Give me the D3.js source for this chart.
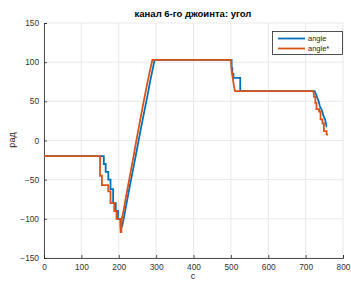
<!DOCTYPE html>
<html><head><meta charset="utf-8">
<script src="https://cdn.jsdelivr.net/npm/d3@7"></script>
<style>body{margin:0;background:#fff}svg{display:block}text{font-family:"Liberation Sans",Arial,sans-serif}</style>
</head><body>
<svg id="c" width="351" height="283"></svg>
<script>
const title = "канал 6-го джоинта: угол";
const xLabel = "с";
const yLabel = "рад";
const xTicks = [0,100,200,300,400,500,600,700,800];
const yTicks = [-150,-100,-50,0,50,100,150];
const seriesNames = ["angle","angle*"];

const angleT = [0,160,160,165,165,172,172,178,178,185,185,192,192,198,198,205,205,209,216,224,233,242,250,258,267,276,285,296,502,502,504,504,507,507,525,525,724,727,727,730,730,735,735,738,738,744,744,748,748,752,752,756,756,757];
const angleV = [-20,-20,-30,-30,-40,-40,-50,-50,-62,-62,-80,-80,-90,-90,-100,-100,-110,-110,-93,-72,-50,-28,-8,12,34,55,78,103,103,92,92,85,85,80,80,63,63,60,60,56,56,50,50,44,44,38,38,31,31,27,27,18,18,18];
const angleStarT = [0,150,150,155,155,172,172,178,178,188,188,194,194,204,205,207,208,212,220,228,237,246,255,264,273,282,290,500,502,502,505,505,508,508,511,720,722,722,726,726,729,729,736,736,740,740,745,745,749,749,756,756,760];
const angleStarV = [-20,-20,-45,-45,-57,-57,-65,-65,-80,-80,-90,-90,-100,-100,-117,-117,-100,-92,-70,-50,-27,-3,20,43,65,86,103,103,90,90,80,80,70,70,63,63,60,56,56,48,48,40,40,37,37,27,27,22,22,12,12,8,7];

const svg = d3.select("#c");
const x = d3.scaleLinear().domain([0,800]).range([44,343]);
const y = d3.scaleLinear().domain([-150,150]).range([258,23]);

// grid
const g = svg.append("g");
g.selectAll(".gx").data(xTicks).enter().append("line")
  .attr("x1",d=>x(d)).attr("x2",d=>x(d)).attr("y1",y(-150)).attr("y2",y(150))
  .attr("stroke","#e3e3e3").attr("stroke-width",0.8);
g.selectAll(".gy").data(yTicks).enter().append("line")
  .attr("y1",d=>y(d)).attr("y2",d=>y(d)).attr("x1",x(0)).attr("x2",x(800))
  .attr("stroke","#e3e3e3").attr("stroke-width",0.8);

// axes
const ax = svg.append("g").attr("transform",`translate(0,${y(-150)})`)
  .call(d3.axisBottom(x).tickValues(xTicks).tickSize(-3).tickPadding(6).tickFormat(d3.format("d")));
const ay = svg.append("g").attr("transform",`translate(${x(0)},0)`)
  .call(d3.axisLeft(y).tickValues(yTicks).tickSize(-3).tickPadding(5).tickFormat(d3.format("d")));
[ax,ay].forEach(a=>{
  a.select(".domain").attr("stroke","#262626").attr("stroke-width",0.8);
  a.selectAll(".tick line").attr("stroke","#262626").attr("stroke-width",0.8);
  a.selectAll("text").attr("fill","#333").style("font-size","8.3px").style("font-family","Liberation Sans, Arial, sans-serif");
});

// lines
const mk = (T,V)=>T.map((t,i)=>[t,V[i]]);
const line = d3.line().x(d=>x(d[0])).y(d=>y(d[1]));
const colors = ["#0072BD","#D95319"];
svg.append("path").datum(mk(angleT,angleV)).attr("d",line)
  .attr("fill","none").attr("stroke",colors[0]).attr("stroke-width",1.8);
svg.append("path").datum(mk(angleStarT,angleStarV)).attr("d",line)
  .attr("fill","none").attr("stroke",colors[1]).attr("stroke-width",1.8);

// title and labels
svg.append("text").attr("x",193).attr("y",17).attr("text-anchor","middle")
  .style("font-size","9.5px").style("font-weight","bold").attr("fill","#000").text(title);
svg.append("text").attr("x",193).attr("y",279).attr("text-anchor","middle")
  .style("font-size","9px").attr("fill","#262626").text(xLabel);
svg.append("text").attr("transform","translate(15,140) rotate(-90)").attr("text-anchor","middle")
  .style("font-size","9px").attr("fill","#262626").text(yLabel);

// legend
const lg = svg.append("g");
lg.append("rect").attr("x",272.5).attr("y",31.5).attr("width",70).attr("height",23)
  .attr("fill","#fff").attr("stroke","#262626").attr("stroke-width",0.8);
seriesNames.forEach((n,i)=>{
  const yy = 38.5 + i*10;
  lg.append("line").attr("x1",278).attr("x2",305).attr("y1",yy).attr("y2",yy)
    .attr("stroke",colors[i]).attr("stroke-width",1.8);
  lg.append("text").attr("x",308).attr("y",yy+2.8).style("font-size","7.5px").attr("fill","#262626").text(n);
});
</script>
</body></html>
